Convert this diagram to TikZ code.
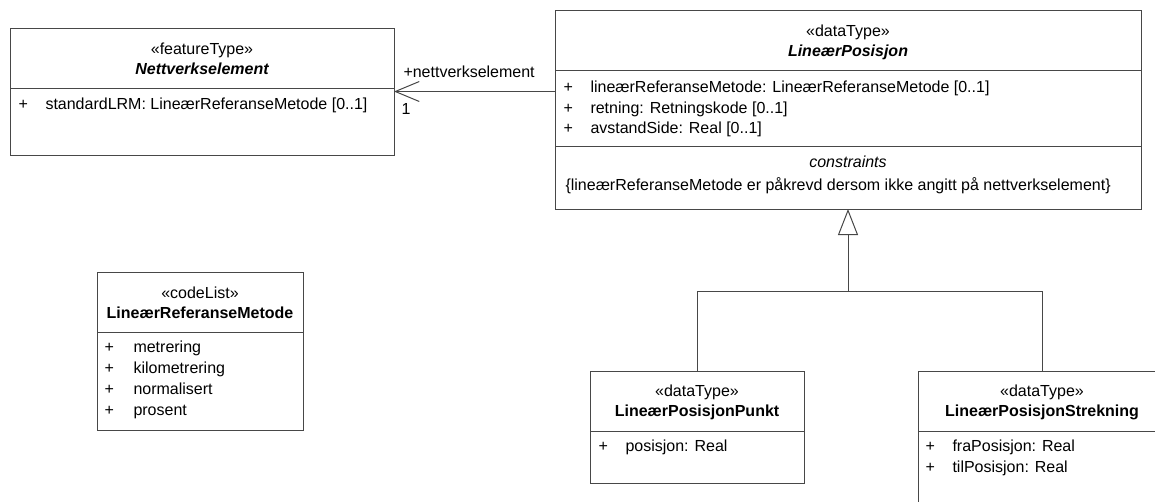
\documentclass[tikz,border=0pt]{standalone}
\usepackage{fontspec}
\setmainfont{Liberation Sans}
\usetikzlibrary{arrows.meta}
\begin{document}
\begin{tikzpicture}[x=1pt,y=-1pt,
  font=\fontsize{16}{19}\selectfont,
  line width=1pt,
  umlbox/.style={draw=black!72, anchor=north west, inner sep=0pt, outer sep=0pt},
  ctr/.style={anchor=base, inner sep=0pt},
  lft/.style={anchor=base west, inner sep=0pt},
  stereo/.style={ctr},
  absname/.style={ctr, font=\fontsize{16}{19}\selectfont\bfseries\itshape},
  cname/.style={ctr, font=\fontsize{16}{19}\selectfont\bfseries},
  assoc/.style={draw=black!72, -{Straight Barb[length=24pt,width=20pt,line width=1pt]}},
  gen/.style={draw=black!72, -{Triangle[open,length=26pt,width=20pt,line width=1pt]}},
  link/.style={draw=black!72}
]
\useasboundingbox (0,0) rectangle (1155,501);
\clip (0,0) rectangle (1155,501);

% --- Nettverkselement ---
\node[umlbox, minimum width=384pt, minimum height=127pt] (ne) at (10,28) {};
\draw[link] (ne.west |- 0,88) -- (ne.east |- 0,88);
\node[stereo] (neS) at (202,54) {«featureType»};
\node[absname] (neN) at (202,74) {Nettverkselement};
\node[lft] (neP1) at (18,109.5) {+};
\node[lft] (neA1) at (45,109.5) {standardLRM: LineærReferanseMetode [0..1]};

% --- LineærPosisjon ---
\node[umlbox, minimum width=586pt, minimum height=199pt] (pos) at (555,10) {};
\draw[link] (pos.west |- 0,70) -- (pos.east |- 0,70);
\draw[link] (pos.west |- 0,146) -- (pos.east |- 0,146);
\node[stereo] (posS) at (848,36.5) {«dataType»};
\node[absname] (posN) at (848,56.5) {LineærPosisjon};
\node[lft] (posP1) at (563,92.5) {+};
\node[lft] (posA1) at (590,92.5) {lineærReferanseMetode: LineærReferanseMetode [0..1]};
\node[lft] (posP2) at (563,113) {+};
\node[lft] (posA2) at (590,113) {retning: Retningskode [0..1]};
\node[lft] (posP3) at (563,133.5) {+};
\node[lft] (posA3) at (590,133.5) {avstandSide: Real [0..1]};
\node[ctr, font=\fontsize{16}{19}\selectfont\itshape] (posC) at (848,167) {constraints};
\node[lft] (posC1) at (565,190) {\{lineærReferanseMetode er påkrevd dersom ikke angitt på nettverkselement\}};

% --- LineærReferanseMetode ---
\node[umlbox, minimum width=206pt, minimum height=158pt] (lrm) at (97,272) {};
\draw[link] (lrm.west |- 0,332) -- (lrm.east |- 0,332);
\node[stereo] (lrmS) at (200,298.5) {«codeList»};
\node[cname] (lrmN) at (200,318.5) {LineærReferanseMetode};
\node[lft] (lrmP1) at (104,352.5) {+};
\node[lft] (lrmA1) at (133,352.5) {metrering};
\node[lft] (lrmP2) at (104,373.5) {+};
\node[lft] (lrmA2) at (133,373.5) {kilometrering};
\node[lft] (lrmP3) at (104,394.5) {+};
\node[lft] (lrmA3) at (133,394.5) {normalisert};
\node[lft] (lrmP4) at (104,415.5) {+};
\node[lft] (lrmA4) at (133,415.5) {prosent};

% --- LineærPosisjonPunkt ---
\node[umlbox, minimum width=214pt, minimum height=112pt] (pkt) at (590,371) {};
\draw[link] (pkt.west |- 0,431) -- (pkt.east |- 0,431);
\node[stereo] (pktS) at (697,396.5) {«dataType»};
\node[cname] (pktN) at (697,416.5) {LineærPosisjonPunkt};
\node[lft] (pktP1) at (598,451.5) {+};
\node[lft] (pktA1) at (625,451.5) {posisjon: Real};

% --- LineærPosisjonStrekning ---
\node[umlbox, minimum width=248pt, minimum height=150pt] (str) at (918,371) {};
\draw[link] (str.west |- 0,431) -- (str.east |- 0,431);
\node[stereo] (strS) at (1042,396.5) {«dataType»};
\node[cname] (strN) at (1042,416.5) {LineærPosisjonStrekning};
\node[lft] (strP1) at (925,451.5) {+};
\node[lft] (strA1) at (952,451.5) {fraPosisjon: Real};
\node[lft] (strP2) at (925,472.5) {+};
\node[lft] (strA2) at (952,472.5) {tilPosisjon: Real};

% --- association ---
\draw[assoc] (pos.west |- 0,91.5) -- (ne.east |- 0,91.5);
\node[lft] (roleN) at (403,77.5) {+nettverkselement};
\node[lft] (multN) at (401,114.5) {1};

% --- generalization ---
\coordinate (gj) at (848,291);
\draw[gen] (pkt.north) |- (gj) -- (pos.south);
\draw[link] (str.north) |- (gj);
\end{tikzpicture}
\end{document}
